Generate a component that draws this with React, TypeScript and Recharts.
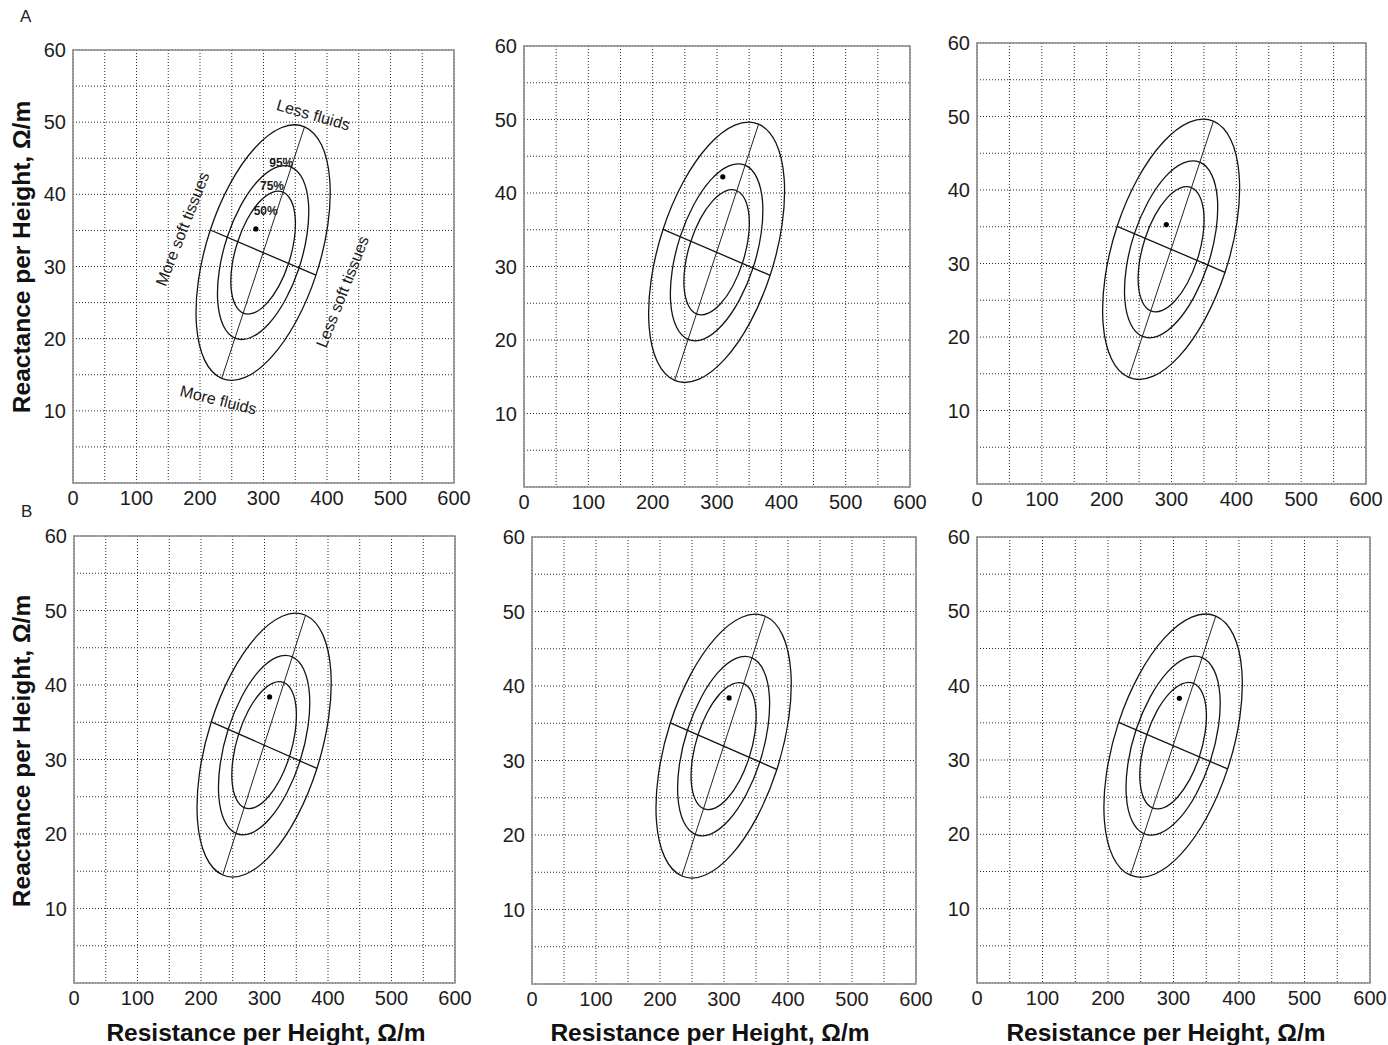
import React from 'react';
import { ComposedChart, Line, Scatter, XAxis, YAxis, CartesianGrid, ReferenceArea } from 'recharts';

// ---------- data ----------
const xTicks = [0, 50, 100, 150, 200, 250, 300, 350, 400, 450, 500, 550, 600];
const yTicks = [0, 5, 10, 15, 20, 25, 30, 35, 40, 45, 50, 55, 60];
const xLabelValues = [0, 100, 200, 300, 400, 500, 600];
const yLabelValues = [10, 20, 30, 40, 50, 60];

// 95% tolerance ellipse
const ellipse95 = [
  { x: 364.6, y: 49.36 }, { x: 391.5, y: 46.83 }, { x: 404.3, y: 42.04 }, { x: 401.2, y: 35.71 },
  { x: 382.6, y: 28.8 }, { x: 351.3, y: 22.37 }, { x: 312.1, y: 17.4 }, { x: 271.0, y: 14.63 },
  { x: 234.2, y: 14.5 }, { x: 207.3, y: 17.03 }, { x: 194.5, y: 21.82 }, { x: 197.6, y: 28.15 },
  { x: 216.2, y: 35.06 }, { x: 247.5, y: 41.49 }, { x: 286.7, y: 46.46 }, { x: 327.8, y: 49.23 },
];
// 75% tolerance ellipse
const ellipse75 = [
  { x: 343.7, y: 43.78 }, { x: 362.0, y: 42.06 }, { x: 370.8, y: 38.8 }, { x: 368.6, y: 34.49 },
  { x: 356.0, y: 29.8 }, { x: 334.7, y: 25.43 }, { x: 308.1, y: 22.04 }, { x: 280.1, y: 20.16 },
  { x: 255.1, y: 20.08 }, { x: 236.8, y: 21.8 }, { x: 228.0, y: 25.06 }, { x: 230.2, y: 29.37 },
  { x: 242.8, y: 34.06 }, { x: 264.1, y: 38.43 }, { x: 290.7, y: 41.82 }, { x: 318.7, y: 43.7 },
];
// 50% tolerance ellipse
const ellipse50 = [
  { x: 330.8, y: 40.31 }, { x: 343.7, y: 39.09 }, { x: 349.9, y: 36.79 }, { x: 348.4, y: 33.74 },
  { x: 339.4, y: 30.42 }, { x: 324.4, y: 27.32 }, { x: 305.5, y: 24.93 }, { x: 285.8, y: 23.61 },
  { x: 268.0, y: 23.55 }, { x: 255.1, y: 24.77 }, { x: 248.9, y: 27.07 }, { x: 250.4, y: 30.12 },
  { x: 259.4, y: 33.44 }, { x: 274.4, y: 36.54 }, { x: 293.3, y: 38.93 }, { x: 313.1, y: 40.25 },
];
const majorAxis = [{ x: 234.2, y: 14.5 }, { x: 364.6, y: 49.36 }];
const minorAxis = [{ x: 216.2, y: 35.06 }, { x: 382.6, y: 28.8 }];

// individual vectors, one per panel (A1, A2, A3, B1, B2, B3)
const subjectX = [288, 309, 292, 308, 308, 309];
const subjectY = [35.2, 42.2, 35.3, 38.4, 38.4, 38.3];

// annotations of the first panel
const annotationLabels = ['Less fluids', 'More fluids', 'More soft tissues', 'Less soft tissues', '95%', '75%', '50%'];
const annotationX = [378.5, 228.8, 172.4, 424.4, 328, 313.4, 303.4];
const annotationY = [51.0, 11.5, 35.2, 26.5, 44.4, 41.1, 37.7];

const panelLetters = ['A', 'B'];
const xTitle = 'Resistance per Height, Ω/m';
const yTitle = 'Reactance per Height, Ω/m';

// ---------- styles ----------
const annotationAngle = [16, 14, -68.5, -68.5, 0, 0, 0];
const annotationSize = [16, 16, 16, 16, 12, 12, 12];
const annotationWeight = [400, 400, 400, 400, 700, 700, 700];
const FONT = '"Liberation Sans", Arial, Helvetica, sans-serif';

const panels = [
  { l: 73, t: 50, w: 381, h: 433 },
  { l: 524, t: 46, w: 386, h: 441 },
  { l: 977, t: 43, w: 389, h: 441 },
  { l: 74, t: 536, w: 381, h: 447 },
  { l: 532, t: 537, w: 384, h: 447 },
  { l: 977, t: 537, w: 393, h: 446 },
];

// closed Catmull-Rom curve passing through the outline points
const closedCurve = (context: any) => {
  let pts: number[][] = [];
  return {
    areaStart() {},
    areaEnd() {},
    lineStart() { pts = []; },
    point(x: number, y: number) { pts.push([x, y]); },
    lineEnd() {
      const n = pts.length;
      if (!n) return;
      context.moveTo(pts[0][0], pts[0][1]);
      for (let i = 0; i < n; i++) {
        const p0 = pts[(i - 1 + n) % n];
        const p1 = pts[i];
        const p2 = pts[(i + 1) % n];
        const p3 = pts[(i + 2) % n];
        context.bezierCurveTo(
          p1[0] + (p2[0] - p0[0]) / 6, p1[1] + (p2[1] - p0[1]) / 6,
          p2[0] - (p3[0] - p1[0]) / 6, p2[1] - (p3[1] - p1[1]) / 6,
          p2[0], p2[1],
        );
      }
      context.closePath();
    },
  };
};

const fmtX = (v: number) => (xLabelValues.includes(v) ? String(v) : '');
const fmtY = (v: number) => (yLabelValues.includes(v) ? String(v) : '');

const annotations = annotationLabels.map((label, i) => ({
  x: annotationX[i], y: annotationY[i], label,
  angle: annotationAngle[i], size: annotationSize[i], weight: annotationWeight[i],
}));

const renderAnnotation = (p: any) => {
  const { cx, cy, payload } = p;
  return (
    <text
      x={cx}
      y={cy}
      transform={`rotate(${payload.angle} ${cx} ${cy})`}
      textAnchor="middle"
      dominantBaseline="central"
      fontSize={payload.size}
      fontWeight={payload.weight}
      fontFamily={FONT}
      fill="#1a1a1a"
    >
      {payload.label}
    </text>
  );
};

const renderDot = (p: any) => <circle cx={p.cx} cy={p.cy} r={2.6} fill="#000" />;

const LEFT = 70;
const TOP = 15;
const RIGHT = 24;
const BOTTOM = 36;

function Panel({ idx }: { idx: number }) {
  const r = panels[idx];
  const subject = [{ x: subjectX[idx], y: subjectY[idx] }];
  const tickStyle = { fontSize: 20, fill: '#1c1c1c', fontFamily: FONT };
  return (
    <div style={{ position: 'absolute', left: r.l - LEFT, top: r.t - TOP }}>
      <ComposedChart
        width={r.w + LEFT + RIGHT}
        height={r.h + TOP + BOTTOM}
        margin={{ top: TOP, right: RIGHT, bottom: 0, left: 0 }}
      >
        <CartesianGrid stroke="#2b2b2b" strokeDasharray="1 2" strokeWidth={1} />
        <XAxis
          type="number"
          dataKey="x"
          domain={[0, 600]}
          ticks={xTicks}
          interval={0}
          tickFormatter={fmtX}
          height={BOTTOM}
          axisLine={false}
          tickLine={false}
          tickSize={0}
          tickMargin={8}
          tick={tickStyle}
          allowDataOverflow
        />
        <YAxis
          type="number"
          dataKey="y"
          domain={[0, 60]}
          ticks={yTicks}
          interval={0}
          tickFormatter={fmtY}
          width={LEFT}
          axisLine={false}
          tickLine={false}
          tickSize={0}
          tickMargin={7}
          tick={tickStyle}
          allowDataOverflow
        />
        <ReferenceArea
          x1={0}
          x2={600}
          y1={0}
          y2={60}
          fill="none"
          fillOpacity={0}
          stroke="#8a8a8a"
          strokeWidth={1.6}
          ifOverflow="visible"
        />
        <Line data={ellipse95} dataKey="y" type={closedCurve as any} stroke="#141414" strokeWidth={1.3} dot={false} activeDot={false} isAnimationActive={false} />
        <Line data={ellipse75} dataKey="y" type={closedCurve as any} stroke="#141414" strokeWidth={1.3} dot={false} activeDot={false} isAnimationActive={false} />
        <Line data={ellipse50} dataKey="y" type={closedCurve as any} stroke="#141414" strokeWidth={1.3} dot={false} activeDot={false} isAnimationActive={false} />
        <Line data={majorAxis} dataKey="y" type="linear" stroke="#222" strokeWidth={1} dot={false} activeDot={false} isAnimationActive={false} />
        <Line data={minorAxis} dataKey="y" type="linear" stroke="#141414" strokeWidth={1.3} dot={false} activeDot={false} isAnimationActive={false} />
        <Scatter data={subject} shape={renderDot} isAnimationActive={false} />
        {idx === 0 && <Scatter data={annotations} shape={renderAnnotation} isAnimationActive={false} />}
      </ComposedChart>
    </div>
  );
}

const titleStyle: React.CSSProperties = {
  position: 'absolute',
  fontFamily: FONT,
  fontWeight: 'bold',
  fontSize: 24.5,
  color: '#111',
  whiteSpace: 'nowrap',
  lineHeight: 1,
};

export default function App() {
  return (
    <div style={{ position: 'absolute', left: 0, top: 0, width: 1388, height: 1045, background: '#fff', overflow: 'hidden' }}>
      <div style={{ position: 'absolute', left: 20, top: 8, fontFamily: FONT, fontSize: 17, color: '#222', lineHeight: 1 }}>{panelLetters[0]}</div>
      <div style={{ position: 'absolute', left: 21, top: 503, fontFamily: FONT, fontSize: 17, color: '#222', lineHeight: 1 }}>{panelLetters[1]}</div>
      {panels.map((_, i) => <Panel key={i} idx={i} />)}
      <div style={{ ...titleStyle, left: 22, top: 257, transform: 'translate(-50%, -50%) rotate(-90deg)' }}>{yTitle}</div>
      <div style={{ ...titleStyle, left: 22, top: 751, transform: 'translate(-50%, -50%) rotate(-90deg)' }}>{yTitle}</div>
      <div style={{ ...titleStyle, left: 266, top: 1033, transform: 'translate(-50%, -50%)' }}>{xTitle}</div>
      <div style={{ ...titleStyle, left: 710, top: 1033, transform: 'translate(-50%, -50%)' }}>{xTitle}</div>
      <div style={{ ...titleStyle, left: 1166, top: 1033, transform: 'translate(-50%, -50%)' }}>{xTitle}</div>
    </div>
  );
}
